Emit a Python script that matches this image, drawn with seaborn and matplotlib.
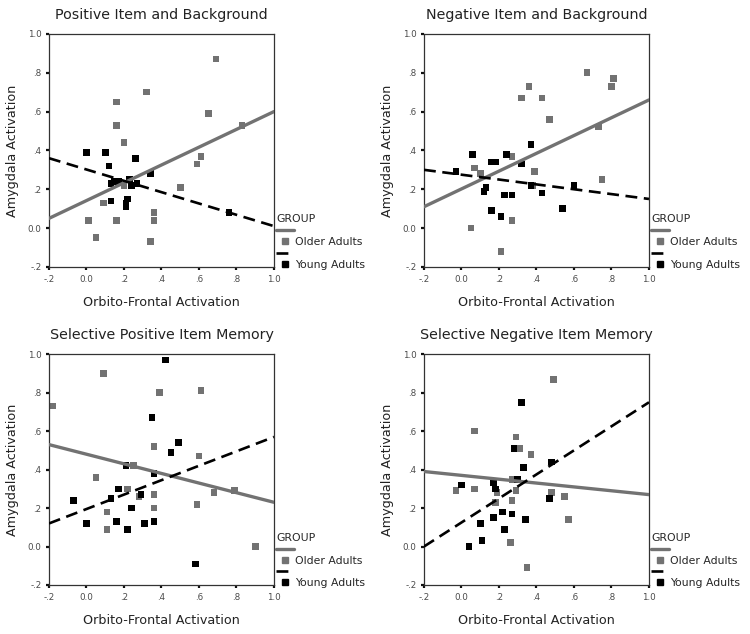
import matplotlib
matplotlib.use("Agg")
import matplotlib.pyplot as plt
from matplotlib.lines import Line2D
import pandas as pd
import seaborn as sns

# Values
fit_x = [-0.2, 1.0]

# Positive Item and Background
pos_bg_old_x = [0.69, 0.32, 0.16, 0.16, 0.20, 0.65, 0.61, 0.59, 0.50, 0.20, 0.09, 0.01, 0.05, 0.16, 0.36, 0.36, 0.34, 0.83]
pos_bg_old_y = [0.87, 0.70, 0.65, 0.53, 0.44, 0.59, 0.37, 0.33, 0.21, 0.22, 0.13, 0.04, -0.05, 0.04, 0.08, 0.04, -0.07, 0.53]
pos_bg_young_x = [0.00, 0.10, 0.12, 0.26, 0.34, 0.13, 0.13, 0.15, 0.17, 0.23, 0.24, 0.27, 0.22, 0.21, 0.21, 0.76]
pos_bg_young_y = [0.39, 0.39, 0.32, 0.36, 0.28, 0.14, 0.23, 0.24, 0.24, 0.25, 0.22, 0.23, 0.15, 0.13, 0.11, 0.08]
pos_bg_fit_old = [0.05, 0.60]
pos_bg_fit_young = [0.36, 0.01]

# Negative Item and Background
neg_bg_old_x = [0.67, 0.81, 0.80, 0.36, 0.32, 0.43, 0.47, 0.73, 0.75, 0.27, 0.39, 0.07, 0.10, 0.38, 0.27, 0.05, 0.21]
neg_bg_old_y = [0.80, 0.77, 0.73, 0.73, 0.67, 0.67, 0.56, 0.52, 0.25, 0.37, 0.29, 0.31, 0.28, 0.22, 0.04, 0.00, -0.12]
neg_bg_young_x = [0.37, 0.06, 0.24, 0.16, 0.18, 0.32, -0.03, 0.13, 0.12, 0.23, 0.27, 0.43, 0.37, 0.60, 0.54, 0.16, 0.21]
neg_bg_young_y = [0.43, 0.38, 0.38, 0.34, 0.34, 0.33, 0.29, 0.21, 0.19, 0.17, 0.17, 0.18, 0.22, 0.22, 0.10, 0.09, 0.06]
neg_bg_fit_old = [0.11, 0.66]
neg_bg_fit_young = [0.30, 0.15]

# Selective Positive Item Memory
pos_item_old_x = [-0.18, 0.09, 0.39, 0.61, 0.36, 0.60, 0.05, 0.22, 0.25, 0.36, 0.28, 0.11, 0.11, 0.36, 0.59, 0.68, 0.79, 0.90]
pos_item_old_y = [0.73, 0.90, 0.80, 0.81, 0.52, 0.47, 0.36, 0.30, 0.42, 0.27, 0.26, 0.18, 0.09, 0.20, 0.22, 0.28, 0.29, 0.00]
pos_item_young_x = [0.42, 0.35, 0.49, 0.45, 0.21, 0.36, 0.17, 0.29, 0.13, -0.07, 0.24, 0.00, 0.16, 0.22, 0.31, 0.36, 0.58]
pos_item_young_y = [0.97, 0.67, 0.54, 0.49, 0.42, 0.38, 0.30, 0.27, 0.25, 0.24, 0.20, 0.12, 0.13, 0.09, 0.12, 0.13, -0.09]
pos_item_fit_old = [0.53, 0.23]
pos_item_fit_young = [0.12, 0.57]

# Selective Negative Item Memory
neg_item_old_x = [0.49, 0.07, 0.29, 0.31, 0.37, -0.03, 0.07, 0.19, 0.18, 0.27, 0.27, 0.29, 0.48, 0.55, 0.57, 0.26, 0.35]
neg_item_old_y = [0.87, 0.60, 0.57, 0.51, 0.48, 0.29, 0.30, 0.28, 0.23, 0.24, 0.35, 0.29, 0.28, 0.26, 0.14, 0.02, -0.11]
neg_item_young_x = [0.32, 0.28, 0.33, 0.30, 0.00, 0.17, 0.18, 0.47, 0.22, 0.27, 0.34, 0.17, 0.10, 0.23, 0.11, 0.04, 0.48]
neg_item_young_y = [0.75, 0.51, 0.41, 0.35, 0.32, 0.33, 0.30, 0.25, 0.18, 0.17, 0.14, 0.15, 0.12, 0.09, 0.03, 0.00, 0.44]
neg_item_fit_old = [0.39, 0.27]
neg_item_fit_young = [0.00, 0.75]

ticks = [-0.2, 0.0, 0.2, 0.4, 0.6, 0.8, 1.0]
tick_labels = ['-.2', '0.0', '.2', '.4', '.6', '.8', '1.0']
groups = ['Older Adults', 'Young Adults']

sns.set_style("white")
plt.rcParams['font.family'] = ['DejaVu Sans']

gray = '#727272'
black = '#000000'


def draw_panel(ax, title, old_x, old_y, young_x, young_y, fit_old, fit_young):
    df = pd.DataFrame({
        'x': old_x + young_x,
        'y': old_y + young_y,
        'group': [groups[0]] * len(old_x) + [groups[1]] * len(young_x),
    })
    sns.scatterplot(data=df, x='x', y='y', hue='group', palette=[gray, black],
                    marker='s', s=23, edgecolor='none', legend=False, ax=ax, zorder=2)
    sns.lineplot(x=fit_x, y=fit_old, color=gray, linewidth=2.4, ax=ax, zorder=3)
    sns.lineplot(x=fit_x, y=fit_young, color=black, linewidth=1.9,
                 linestyle=(0, (4.5, 2.5)), ax=ax, zorder=3)

    ax.set_xlim(-0.2, 1.0)
    ax.set_ylim(-0.2, 1.0)
    ax.set_xticks(ticks)
    ax.set_xticklabels(tick_labels)
    ax.set_yticks(ticks)
    ax.set_yticklabels(tick_labels)
    ax.tick_params(direction='out', length=2.5, width=1.6, labelsize=6.3,
                   labelcolor='#4a4a4a', color='#111111', pad=3,
                   left=True, bottom=True)
    for sp in ax.spines.values():
        sp.set_visible(True)
        sp.set_color('#333333')
        sp.set_linewidth(0.9)
    ax.set_title(title, fontsize=10.3, pad=11, color='#222222')
    ax.set_xlabel('Orbito-Frontal Activation', fontsize=9.2, labelpad=9, color='#222222')
    ax.set_ylabel('Amygdala Activation', fontsize=9.2, labelpad=6, color='#222222')

    handles = [
        Line2D([], [], color=gray, linewidth=2.4),
        Line2D([], [], color=gray, marker='s', linestyle='none', markersize=4.2),
        Line2D([], [], color=black, linewidth=1.9, linestyle=(0, (4.5, 2.5))),
        Line2D([], [], color=black, marker='s', linestyle='none', markersize=4.2),
    ]
    labels = ['', groups[0], '', groups[1]]
    leg = ax.legend(handles, labels, title='GROUP', loc='upper left',
                    bbox_to_anchor=(1.01, 0.225), frameon=False, fontsize=7.8,
                    title_fontsize=7.8, handlelength=1.6, handletextpad=0.1,
                    labelspacing=0.12, borderaxespad=0, borderpad=0)
    leg._legend_box.align = 'left'


fig = plt.figure(figsize=(7.5, 6.34), dpi=100)
ax1 = fig.add_axes([0.0653, 0.579, 0.3, 0.3675])
ax2 = fig.add_axes([0.5653, 0.579, 0.3, 0.3675])
ax3 = fig.add_axes([0.0653, 0.0773, 0.3, 0.364])
ax4 = fig.add_axes([0.5653, 0.0773, 0.3, 0.364])

draw_panel(ax1, 'Positive Item and Background', pos_bg_old_x, pos_bg_old_y,
           pos_bg_young_x, pos_bg_young_y, pos_bg_fit_old, pos_bg_fit_young)
draw_panel(ax2, 'Negative Item and Background', neg_bg_old_x, neg_bg_old_y,
           neg_bg_young_x, neg_bg_young_y, neg_bg_fit_old, neg_bg_fit_young)
draw_panel(ax3, 'Selective Positive Item Memory', pos_item_old_x, pos_item_old_y,
           pos_item_young_x, pos_item_young_y, pos_item_fit_old, pos_item_fit_young)
draw_panel(ax4, 'Selective Negative Item Memory', neg_item_old_x, neg_item_old_y,
           neg_item_young_x, neg_item_young_y, neg_item_fit_old, neg_item_fit_young)

fig.savefig('out.png', dpi=100)
